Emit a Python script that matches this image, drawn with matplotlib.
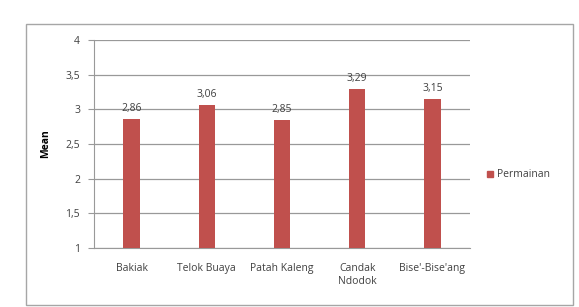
import matplotlib.pyplot as plt
from matplotlib.patches import Rectangle, Patch

categories = ["Bakiak", "Telok Buaya", "Patah Kaleng", "Candak\nNdodok", "Bise'-Bise'ang"]
values = [2.86, 3.06, 2.85, 3.29, 3.15]
labels = ["2,86", "3,06", "2,85", "3,29", "3,15"]
yticks = [1, 1.5, 2, 2.5, 3, 3.5, 4]
ytick_labels = ["1", "1,5", "2", "2,5", "3", "3,5", "4"]
series = "Permainan"

plt.rcParams['font.family'] = ['Open Sans', 'DejaVu Sans']
bar_color = "#C0504D"
text_color = "#404040"

fig = plt.figure(figsize=(5.79, 3.07), dpi=100)
fig.patch.set_facecolor("white")

# outer chart frame
fig.patches.append(Rectangle((0.045, 0.008), 0.945, 0.914, transform=fig.transFigure,
                             fill=False, edgecolor="#a6a6a6", linewidth=1.0))

ax = fig.add_axes([0.1623, 0.1922, 0.6494, 0.6775])
x = list(range(len(categories)))
ax.bar(x, [v - 1 for v in values], bottom=1, width=0.22, color=bar_color, zorder=3)
for xi, v, lab in zip(x, values, labels):
    ax.text(xi, v + 0.07, lab, ha="center", va="bottom", fontsize=7.5, color=text_color)

ax.set_xlim(-0.5, len(categories) - 0.5)
ax.set_ylim(1, 4)
ax.set_yticks(yticks)
ax.set_yticklabels(ytick_labels, fontsize=7.5, color=text_color)
ax.set_xticks(x)
ax.set_xticklabels(categories, fontsize=7.5, color=text_color)
ax.yaxis.grid(True, color="#999999", linewidth=0.9, zorder=0)
ax.tick_params(axis="x", length=0, pad=11)
ax.tick_params(axis="y", length=4, color="#999999", pad=6, direction="out")
for s in ["top", "right"]:
    ax.spines[s].set_visible(False)
ax.spines["left"].set_color("#999999")
ax.spines["bottom"].set_color("#999999")
ax.set_ylabel("Mean", fontsize=7.5, fontweight="bold", color="black", labelpad=10)

fig.legend(handles=[Patch(color=bar_color, label=series)], loc="center left",
           bbox_to_anchor=(0.825, 0.43), frameon=False, fontsize=7.5,
           handlelength=0.6, handleheight=0.6, handletextpad=0.4, labelcolor=text_color)

fig.savefig("out.png", dpi=100)
